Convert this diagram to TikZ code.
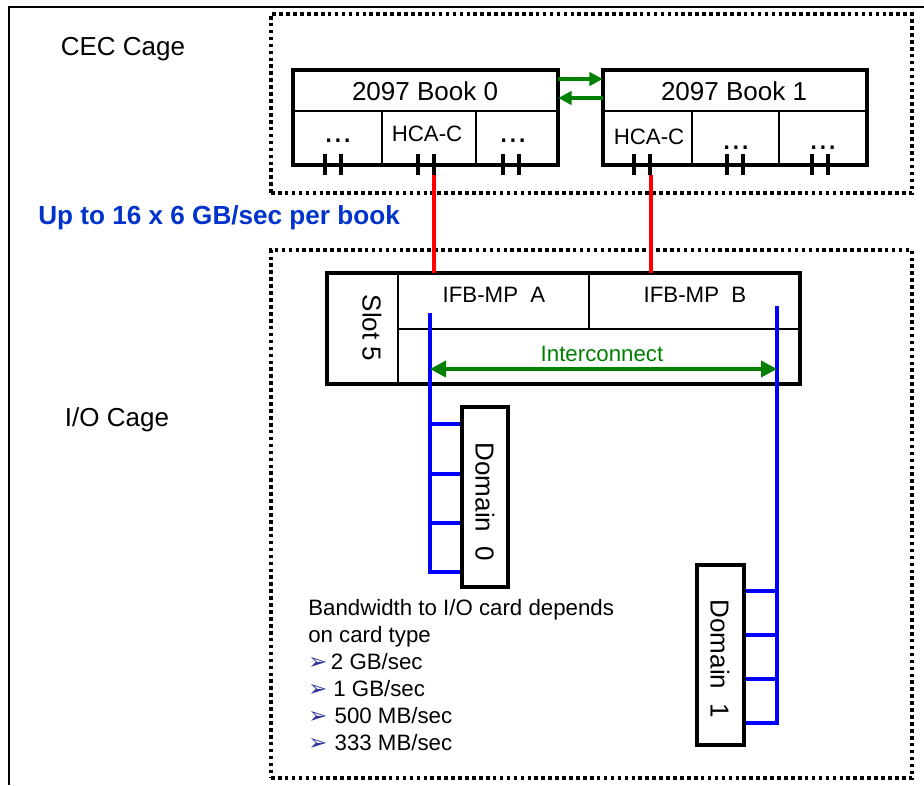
\documentclass[tikz,border=0pt]{standalone}
\usepackage{fontspec}
\setmainfont{Liberation Sans}
\newfontfamily\dejavu{DejaVu Sans}
\usetikzlibrary{arrows.meta,fit}
\definecolor{titleblue}{RGB}{0,51,204}
\definecolor{linkgreen}{RGB}{0,128,0}
\definecolor{bulletblue}{RGB}{51,51,160}
\begin{document}
\begin{tikzpicture}[x=0.75pt,y=-0.75pt,
  frame/.style={line width=1.4pt},
  cage/.style={draw, line width=2.6pt, dash pattern=on 2.7pt off 2.5pt, inner sep=0pt},
  boxarea/.style={inner sep=0pt},
  heavy/.style={line width=3pt},
  thinline/.style={line width=1.2pt},
  tickmark/.style={line width=2.6pt},
  redlink/.style={draw=red, line width=2.5pt},
  bluebus/.style={draw=blue, line width=2.5pt},
  greenarrow/.style={draw=linkgreen, line width=2.6pt, -{Triangle[length=10pt,width=10pt]}},
  biglabel/.style={inner sep=0pt, font=\fontsize{19.5}{23}\selectfont},
  smalllabel/.style={inner sep=0pt, font=\fontsize{16.7}{20}\selectfont},
  dotslabel/.style={inner sep=0pt, font=\fontsize{25}{28}\selectfont},
  domainbox/.style={draw, heavy, fill=white, inner sep=0pt},
]
\newcommand{\bulletglyph}{{\dejavu\fontsize{17}{20}\selectfont\color{bulletblue}➢}}
\useasboundingbox (0,0) rectangle (924,785);
\draw[frame] (9,785) -- (9,7) -- (924,7);

% cages
\node[cage, fit={(271,14)(912,193)}] (cec) {};
\node[cage, fit={(271,250)(912,778)}] (io) {};
\node[biglabel] (ceclabel) at (123,49) {CEC Cage};
\node[biglabel] (iolabel) at (117,420) {I/O Cage};
\node[inner sep=0pt, anchor=west, text=titleblue, font=\fontsize{19.6}{23}\selectfont\bfseries] (bwlabel) at (38,218) {Up to 16 x 6 GB/sec per book};

% Book 0
\node[boxarea, fit={(293,70)(558,165)}] (b0) {};
\draw[thinline] (293,111) -- (558,111);
\draw[thinline] (382,111) -- (382,165);
\draw[thinline] (476,111) -- (476,165);
\draw[heavy] (b0.north west) rectangle (b0.south east);
\node[biglabel] (b0t) at (425,91) {2097 Book 0};
\node[smalllabel] (b0h) at (427,134) {HCA-C};
\node[dotslabel] (b0d1) at (338,141) {...};
\node[dotslabel] (b0d2) at (513,141) {...};
\foreach \x in {325,341,418,434,503,519} \draw[tickmark] (\x,154) -- (\x,175);

% Book 1
\node[boxarea, fit={(603,70)(867,165)}] (b1) {};
\draw[thinline] (603,111) -- (867,111);
\draw[thinline] (692,111) -- (692,165);
\draw[thinline] (779,111) -- (779,165);
\draw[heavy] (b1.north west) rectangle (b1.south east);
\node[biglabel] (b1t) at (734,91) {2097 Book 1};
\node[smalllabel] (b1h) at (649,137) {HCA-C};
\node[dotslabel] (b1d1) at (736,148) {...};
\node[dotslabel] (b1d2) at (823,148) {...};
\foreach \x in {634,650,727,743,812,828} \draw[tickmark] (\x,154) -- (\x,175);

% book-to-book arrows
\draw[greenarrow] (b0.east |- 0,79) -- (b1.west |- 0,79);
\draw[greenarrow] (b1.west |- 0,98) -- (b0.east |- 0,98);

% Slot 5
\node[boxarea, fit={(327,273)(800,384)}] (slot) {};
\draw[thinline] (398,273) -- (398,384);
\draw[thinline] (398,329) -- (800,329);
\draw[thinline] (589,273) -- (589,329);
\draw[heavy] (slot.north west) rectangle (slot.south east);
\node[biglabel, rotate=-90] (slott) at (372,328) {Slot 5};
\node[smalllabel] (ifba) at (494,295) {IFB-MP\ \ A};
\node[smalllabel] (ifbb) at (695,295) {IFB-MP\ \ B};
\node[smalllabel, text=linkgreen] (inter) at (602,354) {Interconnect};

% red links
\coordinate (h0) at (434,175);
\coordinate (h1) at (651,175);
\draw[redlink] (h0) -- (h0 |- slot.north);
\draw[redlink] (h1) -- (h1 |- slot.north);

% blue buses
\coordinate (busA) at (430,313);
\coordinate (busB) at (777,306);
\coordinate (busAend) at (430,572);
\coordinate (busBend) at (777,723);
\node[boxarea, fit={(462,407)(508,587)}] (d0area) {};
\node[boxarea, fit={(697,565)(744,745)}] (d1area) {};
\draw[bluebus] (busA) -- (busAend) -- (d0area.west |- busAend);
\foreach \y in {424,474,523} \draw[bluebus] (busA |- 0,\y) -- (d0area.west |- 0,\y);
\draw[bluebus] (busB) -- (busBend) -- (d1area.east |- busBend);
\foreach \y in {591,635,679} \draw[bluebus] (busB |- 0,\y) -- (d1area.east |- 0,\y);

% interconnect arrow
\draw[draw=linkgreen, line width=2.8pt, {Triangle[length=12pt,width=12pt]}-{Triangle[length=12pt,width=12pt]}] (busA |- 0,369) -- (busB |- 0,369);

% domains
\node[domainbox, fit={(462,407)(508,587)}] (d0) {};
\node[biglabel, rotate=-90] (d0t) at (485,502) {Domain\ \ 0};
\node[domainbox, fit={(697,565)(744,745)}] (d1) {};
\node[biglabel, rotate=-90] (d1t) at (720,659) {Domain\ \ 1};

% bandwidth list
\node[smalllabel, anchor=base west] (bl1) at (308,615) {Bandwidth to I/O card depends};
\node[smalllabel, anchor=base west] (bl2) at (308,642) {on card type};
\node[smalllabel, anchor=base west] (bl3) at (308,669) {\bulletglyph\,2 GB/sec};
\node[smalllabel, anchor=base west] (bl4) at (308,696) {\bulletglyph\ 1 GB/sec};
\node[smalllabel, anchor=base west] (bl5) at (308,723) {\bulletglyph\,\,500 MB/sec};
\node[smalllabel, anchor=base west] (bl6) at (308,750) {\bulletglyph\,\,333 MB/sec};
\end{tikzpicture}
\end{document}
